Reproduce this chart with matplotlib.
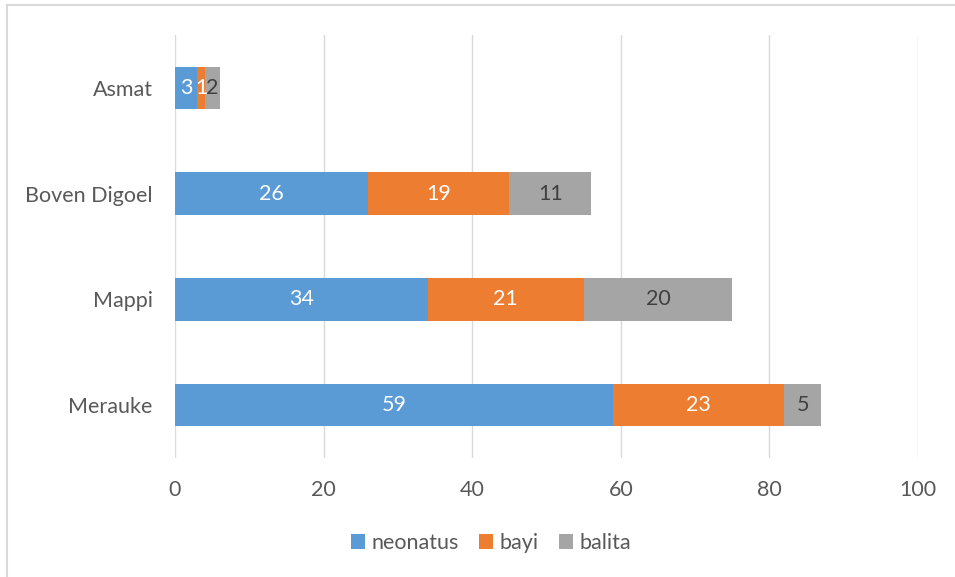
import matplotlib
matplotlib.use("Agg")
import matplotlib.pyplot as plt
from matplotlib.lines import Line2D

categories = ["Merauke", "Mappi", "Boven Digoel", "Asmat"]
neonatus = [59, 34, 26, 3]
bayi = [23, 21, 19, 1]
balita = [5, 20, 11, 2]
series_names = ["neonatus", "bayi", "balita"]
colors = ["#5B9BD5", "#ED7D31", "#A5A5A5"]
label_colors = ["white", "white", "#404040"]

plt.rcParams['font.family'] = ['Lato', 'DejaVu Sans']
FS = 15.5

fig = plt.figure(figsize=(9.55, 5.77), dpi=100)
ax = fig.add_axes([175/955, 1-458/577, (918-175)/955, (458-35)/577])

y = list(range(len(categories)))
left = [0]*len(categories)
for vals, name, c, lc in zip([neonatus, bayi, balita], series_names, colors, label_colors):
    bars = ax.barh(y, vals, left=left, height=0.4, color=c, label=name, zorder=3)
    for b, v in zip(bars, vals):
        ax.text(b.get_x()+b.get_width()/2, b.get_y()+b.get_height()/2, str(v),
                ha='center', va='center', color=lc, fontsize=FS, zorder=4)
    left = [l+v for l, v in zip(left, vals)]

ax.set_xlim(0, 100)
ax.set_ylim(-0.5, 3.5)
ax.set_xticks(range(0, 101, 20))
ax.set_yticks(y)
ax.set_yticklabels(categories)
ax.grid(axis='x', color='#D9D9D9', linewidth=1, zorder=0)
for s in ax.spines.values():
    s.set_visible(False)
ax.tick_params(length=0, labelsize=FS, colors='#595959')
ax.tick_params(axis='x', pad=16)
ax.tick_params(axis='y', pad=16)

leg = fig.legend(loc='center', bbox_to_anchor=(491/955, 1-543/577), ncol=3, frameon=False,
                 fontsize=FS, handlelength=0.65, handleheight=0.65, columnspacing=0.95,
                 handletextpad=0.3)
for t in leg.get_texts():
    t.set_color('#595959')

fig.add_artist(Line2D([7/955, 7/955], [0, 1-5/577], transform=fig.transFigure,
                      color='#D9D9D9', linewidth=1.5))
fig.add_artist(Line2D([7/955, 1], [1-5/577, 1-5/577], transform=fig.transFigure,
                      color='#D9D9D9', linewidth=1.5))

fig.savefig("out.png", dpi=100)
